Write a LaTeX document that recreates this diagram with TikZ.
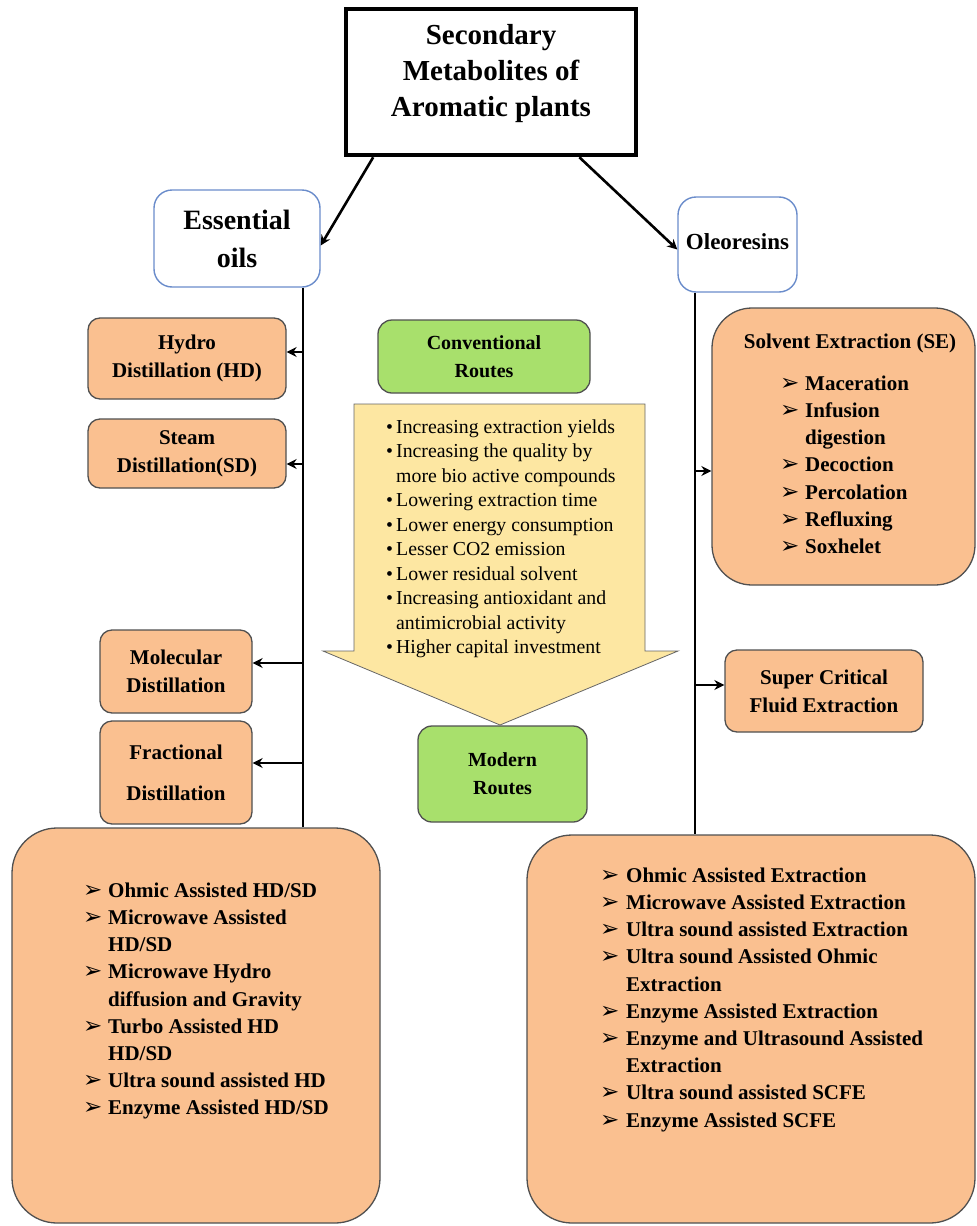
\documentclass[tikz,border=0pt]{standalone}
\usepackage{fontspec}
\setmainfont{Liberation Serif}
\newfontfamily\dingfont{DejaVu Sans}
\usetikzlibrary{arrows.meta,positioning,calc}

\definecolor{peach}{HTML}{FAC090}
\definecolor{leaf}{HTML}{A8E06C}
\definecolor{butter}{HTML}{FDE7A2}
\definecolor{oilblue}{HTML}{6A8CCB}
\definecolor{rim}{HTML}{505050}

\newcommand{\arw}{{\dingfont\fontsize{23}{20}\selectfont\char"27A2}}

\begin{document}
\begin{tikzpicture}[x=1pt,y=-1pt,
  headbox/.style={draw=black,line width=4.5pt,fill=white,minimum width=290pt,minimum height=146pt,font=\fontsize{29}{36}\selectfont\bfseries},
  typebox/.style={draw=oilblue,line width=1.4pt,rounded corners=18pt,fill=white,align=center},
  routebox/.style={draw=rim,line width=1.3pt,rounded corners=14pt,fill=leaf,align=center,font=\fontsize{20}{28}\selectfont\bfseries},
  methodbox/.style={draw=rim,line width=1.3pt,rounded corners=12pt,fill=peach,align=center,font=\fontsize{21}{28}\selectfont\bfseries},
  bigbox/.style={draw=rim,line width=1.3pt,rounded corners=45pt,fill=peach},
  listtext/.style={anchor=north west,inner sep=0pt,font=\fontsize{21}{27.2}\selectfont\bfseries},
  bus/.style={line width=2.6pt},
  branch/.style={line width=2.6pt,-{Stealth[length=10pt,width=10pt]}},
]
  \pgfmathsetmacro {\lx}{303} %left bus x
  \pgfmathsetmacro {\rx}{695} %right bus x

  \useasboundingbox (0,0) rectangle (977,1226);

  %Title and the two product types
  \node[headbox] (title) at (491,82) {\raisebox{9pt}[\height][\depth]{\begin{tabular}{@{}c@{}}Secondary\\Metabolites of\\Aromatic plants\end{tabular}}};
  \node[typebox,minimum width=166pt,minimum height=97pt,font=\fontsize{28}{38}\selectfont\bfseries] (oil) at (237,238.5) {Essential\\oils};
  \node[typebox,minimum width=119pt,minimum height=95pt,font=\fontsize{23}{30}\selectfont\bfseries] (oleo) at (737.5,244.5) {\raisebox{6pt}{Oleoresins}};

  \draw[branch] ($(title.south west)!0.1!(title.south east)$) -- ([yshift=-7pt]oil.east);
  \draw[branch] ($(title.south west)!0.8!(title.south east)$) -- ([yshift=-5pt]oleo.west);

  %Essential oil methods
  \node[methodbox,minimum width=198pt,minimum height=81pt] (hydro) at (187,358.5) {Hydro\\Distillation (HD)};
  \node[methodbox,minimum width=198pt,minimum height=69pt] (steam) at (187,453.5) {Steam\\Distillation(SD)};
  \node[methodbox,minimum width=152pt,minimum height=83pt] (molec) at (176,671.5) {Molecular\\Distillation};
  \node[methodbox,minimum width=152pt,minimum height=103pt] (fract) at (176,772.5) {Fractional\\[13pt]Distillation};
  \node[bigbox,minimum width=368pt,minimum height=395pt] (oilmod) at (196,1025.5) {};
  \node[listtext] (oillist) at (83,878) {\begin{tabular}{@{}p{25pt}@{}l@{}}
    \arw & Ohmic Assisted HD/SD\\
    \arw & Microwave Assisted\\
         & HD/SD\\
    \arw & Microwave Hydro\\
         & diffusion and Gravity\\
    \arw & Turbo Assisted HD\\
         & HD/SD\\
    \arw & Ultra sound assisted HD\\
    \arw & Enzyme Assisted HD/SD
  \end{tabular}};

  %Oleoresin methods
  \node[methodbox,rounded corners=40pt,minimum width=263pt,minimum height=277pt] (solv) at (843.5,446.5) {};
  \node[methodbox,draw=none,fill=none,inner sep=0pt] (solvtitle) at (850,343) {Solvent Extraction (SE)};
  \node[listtext] (solvlist) at (780,371) {\begin{tabular}{@{}p{25pt}@{}l@{}}
    \arw & Maceration\\
    \arw & Infusion\\
         & digestion\\
    \arw & Decoction\\
    \arw & Percolation\\
    \arw & Refluxing\\
    \arw & Soxhelet
  \end{tabular}};
  \node[methodbox,minimum width=198pt,minimum height=82pt] (scfe) at (824,691) {Super Critical\\Fluid Extraction};
  \node[bigbox,minimum width=448pt,minimum height=388pt] (oleomod) at (751,1029) {};
  \node[listtext] (oleolist) at (600,863) {\begin{tabular}{@{}p{26pt}@{}l@{}}
    \arw & Ohmic Assisted Extraction\\
    \arw & Microwave Assisted Extraction\\
    \arw & Ultra sound assisted Extraction\\
    \arw & Ultra sound Assisted Ohmic\\
         & Extraction\\
    \arw & Enzyme Assisted Extraction\\
    \arw & Enzyme and Ultrasound Assisted\\
         & Extraction\\
    \arw & Ultra sound assisted SCFE\\
    \arw & Enzyme Assisted SCFE
  \end{tabular}};

  %Big arrow from conventional to modern routes
  \draw[draw=gray!80!black,line width=0.8pt,fill=butter] (354,404) -- (645,404) -- (645,651) -- (678,651)
    -- (500,725) -- (323,651) -- (354,651) -- cycle;
  \node[anchor=north west,inner sep=0pt,font=\fontsize{19.8}{24.5}\selectfont] (gains) at (386,416) {\begin{tabular}{@{}p{10pt}@{}l@{}}
    \textbullet & Increasing extraction yields\\
    \textbullet & Increasing the quality by\\
                & more bio active compounds\\
    \textbullet & Lowering extraction time\\
    \textbullet & Lower energy consumption\\
    \textbullet & Lesser CO2 emission\\
    \textbullet & Lower residual solvent\\
    \textbullet & Increasing antioxidant and\\
                & antimicrobial activity\\
    \textbullet & Higher capital investment
  \end{tabular}};
  \node[routebox,minimum width=212pt,minimum height=73pt] (conv) at (484,356.5) {Conventional\\Routes};
  \node[routebox,minimum width=169pt,minimum height=96pt] (modern) at (502.5,774) {Modern\\Routes};

  %Left bus and its branches
  \draw[bus] (oil.south -| \lx,0) -- (oilmod.north -| \lx,0);
  \coordinate (ohd) at (\lx,352);
  \coordinate (osd) at (\lx,464);
  \coordinate (omd) at (\lx,663);
  \coordinate (ofd) at (\lx,763);
  \draw[branch] (ohd) -- (ohd -| hydro.east);
  \draw[branch] (osd) -- (osd -| steam.east);
  \draw[branch] (omd) -- (omd -| molec.east);
  \draw[branch] (ofd) -- (ofd -| fract.east);

  %Right bus and its branches
  \draw[bus] (oleo.south -| \rx,0) -- (oleomod.north -| \rx,0);
  \coordinate (rse) at (\rx,471);
  \coordinate (rsc) at (\rx,685);
  \draw[branch] (rse) -- (rse -| solv.west);
  \draw[branch] (rsc) -- (rsc -| scfe.west);

\end{tikzpicture}
\end{document}
